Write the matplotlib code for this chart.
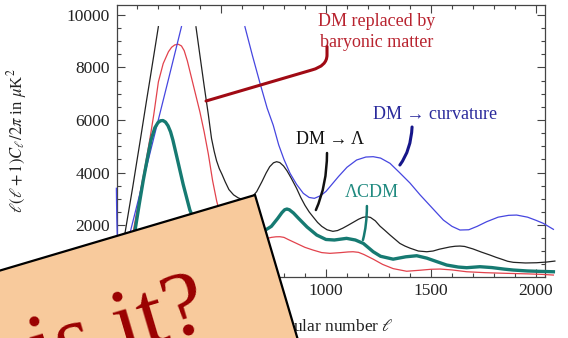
import numpy as np
import matplotlib
matplotlib.use("Agg")
import matplotlib.pyplot as plt
from matplotlib.patches import Polygon, PathPatch
from matplotlib.path import Path
from matplotlib.ticker import MultipleLocator

plt.rcParams['font.family'] = ['Liberation Serif', 'DejaVu Serif']
plt.rcParams['mathtext.fontset'] = 'stix'

nan = np.nan

# DM -> Lambda (black)
ell_lam = [2, 8, 20, 30, 43, 60, 80, 100, 116, 130, 146, 160, 175, 190, 202, 290,
           381, 400, 420, 440, 455, 468, 479, 492, 505, 520, 538, 560, 581, 602, 624,
           646, 670, 695, 715, 732, 750, 765, 780, 798, 815, 835, 860, 880, 900, 920, 938, 960,
           980, 1005, 1033, 1055, 1080, 1105, 1129, 1155, 1175, 1194, 1212, 1235, 1257, 1280, 1305,
           1330, 1352, 1376, 1400, 1440, 1480, 1510, 1540, 1590, 1615, 1638, 1660, 1700, 1740,
           1781, 1810, 1840, 1865, 1892, 1950, 2003, 2050, 2090]
cl_lam = [1300, 1000, 950, 1100, 1690, 2500, 3450, 4450, 5240, 5950, 6760, 7450, 8200, 8950, 9555, nan,
          9550, 8450, 7300, 6200, 5300, 4800, 4450, 4150, 3930, 3650, 3350, 3150, 3040, 2970, 2950,
          3050, 3270, 3650, 3980, 4220, 4370, 4412, 4380, 4250, 4060, 3780, 3400, 3050, 2750, 2500, 2318, 2100,
          1950, 1820, 1760, 1790, 1880, 1990, 2100, 2220, 2290, 2318, 2290, 2160, 1960, 1800, 1620,
          1450, 1300, 1200, 1120, 1010, 983, 1010, 1080, 1165, 1192, 1200, 1185, 1090, 970,
          857, 770, 690, 620, 580, 555, 564, 590, 628]

# DM replaced by baryonic matter (red)
ell_bar = [2, 10, 30, 50, 66, 81, 100, 120, 140, 162, 180, 202, 225, 250, 265, 280, 297, 312, 325,
           340, 360, 380, 400, 420, 440, 460, 480, 510, 550, 600, 650, 700, 740, 762, 781, 800, 820,
           860, 900, 938, 980, 1019, 1070, 1105, 1129, 1155, 1180, 1225, 1270, 1320, 1384, 1450, 1500,
           1543, 1600, 1670, 1760, 1860, 1960, 2030, 2083]
cl_bar = [1100, 800, 700, 850, 1100, 1690, 2550, 3450, 4300, 5300, 6200, 7450, 8150, 8600, 8770, 8860, 8885, 8820, 8640,
          8250, 7600, 6950, 6300, 5550, 4700, 3700, 2900, 2000, 1450, 1250, 1300, 1450, 1530, 1552, 1555, 1530, 1450,
          1300, 1150, 1048, 950, 922, 950, 975, 983, 960, 880, 700, 500, 340, 240, 280, 315,
          324, 290, 221, 185, 160, 140, 120, 95]

# DM -> curvature (blue)
ell_curv = [2, 3, 4, 6, 9, 14, 22, 35, 50, 67, 100, 150, 200, 250, 312, 450, 614, 650, 686, 720,
            749, 775, 800, 829, 860, 892, 920, 945, 975, 1000, 1019, 1060, 1100, 1146, 1190, 1225,
            1260, 1305, 1350, 1400, 1448, 1500, 1559, 1600, 1638, 1680, 1720, 1765, 1820, 1870,
            1908, 1960, 2000, 2035, 2083]
cl_curv = [3400, 2800, 2300, 1700, 1300, 1050, 950, 1000, 1250, 1700, 2750, 4350, 5950, 7550, 9555, nan, 9555, 8450, 7400, 6450,
           5800, 5050, 4500, 3970, 3550, 3208, 3050, 3017, 3120, 3280, 3460, 3850, 4200, 4477, 4590, 4603,
           4550, 4350, 4000, 3600, 3150, 2700, 2190, 1950, 1810, 1820, 1950, 2126, 2300, 2370,
           2380, 2300, 2180, 2064, 1836]

# Lambda-CDM (teal)
ell_lcdm = [2, 10, 30, 50, 70, 89, 110, 130, 150, 167, 185, 200, 212, 224, 236, 248, 260, 271, 290, 320,
            352, 380, 420, 470, 540, 600, 660, 710, 740, 770, 790, 803, 814, 826, 845, 870, 910, 956, 1000,
            1040, 1098, 1140, 1178, 1225, 1260, 1320, 1380, 1432, 1480, 1530, 1575, 1630, 1670,
            1733, 1790, 1850, 1892, 1960, 2020, 2083]
cl_lcdm = [1000, 800, 950, 1150, 1400, 1700, 2750, 3700, 4550, 5240, 5700, 5900, 5970, 5980, 5920, 5780, 5550, 5240, 4590, 3550,
           2570, 2050, 1800, 2050, 2550, 2300, 1900, 1800, 1950, 2250, 2470, 2580, 2610, 2580, 2460, 2250, 1925, 1619, 1450,
           1430, 1493, 1430, 1300, 983, 810, 700, 790, 831, 740, 600, 476, 400, 375,
           413, 380, 320, 286, 250, 235, 221]

W, H = 568, 338
fig = plt.figure(figsize=(W / 100, H / 100), dpi=100)
ax = fig.add_axes([117 / W, 1 - 276.5 / H, 428 / W, 271.5 / H])

ax.plot(ell_lam, cl_lam, color='#222222', lw=0.9, clip_on=False, zorder=3)
ax.plot(ell_bar, cl_bar, color='#e2424c', lw=0.9, clip_on=False, zorder=3)
ax.plot(ell_curv, cl_curv, color='#4646e0', lw=0.9, clip_on=False, zorder=3)
ax.plot(ell_lcdm, cl_lcdm, color='#167a72', lw=2.4, clip_on=False, zorder=4)

ax.set_xlim(5, 2043)
ax.set_ylim(40, 10380)
ax.xaxis.set_minor_locator(MultipleLocator(100))
ax.yaxis.set_minor_locator(MultipleLocator(500))
ax.tick_params(which='both', direction='in', top=True, right=True, colors='#444444',
               labelcolor='#222222', labelsize=12.5, width=0.8)
ax.tick_params(which='major', length=6)
ax.tick_params(which='minor', length=3)
ax.tick_params(axis='both', pad=5)
ax.set_xticks([500, 1000, 1500, 2000])
ax.set_yticks([2000, 4000, 6000, 8000, 10000])
for s in ax.spines.values():
    s.set_color('#444444')
    s.set_linewidth(0.9)

ax.set_ylabel(r'$\ell(\ell+1)C_\ell/2\pi$ in $\mu$K$^2$', fontsize=12, color='#222222')
ax.yaxis.set_label_coords(-0.205, 0.5)
ax.set_xlabel(r'angular number $\ell$', fontsize=12.5, color='#222222', va='top')
ax.xaxis.set_label_coords(0.5, -0.15)

# labels with hand-drawn pointers
def pointer(verts, codes, color, lw):
    ax.add_patch(PathPatch(Path(verts, codes), fill=False, edgecolor=color, lw=lw,
                           capstyle='round', zorder=5, clip_on=False))

M, L, C3 = Path.MOVETO, Path.LINETO, Path.CURVE3

ax.text(1243, 9354, 'DM replaced by\nbaryonic matter', color='#b8232f', fontsize=13,
        ha='center', va='center', linespacing=1.25, zorder=6)
pointer([(429, 6724), (933, 7906), (1005, 8058), (1005, 8477), (1005, 8800)],
        [M, L, C3, C3, L], '#a00a14', 2.2)

ax.text(1019, 5239, 'DM → Λ', color='#111111', fontsize=13, ha='center', va='center', zorder=6)
pointer([(1005, 4743), (1005, 3524), (952, 2572)], [M, C3, C3], '#111111', 1.8)

ax.text(1219, 3258, 'ΛCDM', color='#208a80', fontsize=13, ha='center', va='center', zorder=6)
pointer([(1195, 2724), (1195, 2000), (1176, 1429)], [M, C3, C3], '#167a72', 1.8)

ax.text(1519, 6191, 'DM → curvature', color='#2a2a9c', fontsize=13, ha='center', va='center', zorder=6)
pointer([(1410, 5734), (1405, 4858), (1352, 4286)], [M, C3, C3], '#16168a', 2.2)

# tilted note card over the lower left corner
th = np.deg2rad(16.5)
c = np.array([255, 195])
u = np.array([-np.cos(th), np.sin(th)])
v = np.array([np.sin(th), np.cos(th)])
pts = [c, c + 700 * u, c + 700 * u + 700 * v, c + 700 * v]
pts = [(p[0] / W, 1 - p[1] / H) for p in pts]
fig.add_artist(Polygon(pts, closed=True, facecolor='#f8ca9c', edgecolor='black', lw=1.6,
                       transform=fig.transFigure, zorder=20))
fig.text(212 / W, 1 - 328 / H, 'is it?', color='#9a0000', fontsize=68,
         rotation=16.5, rotation_mode='anchor', ha='right', va='baseline', zorder=21)

fig.savefig('out.png', dpi=100)
